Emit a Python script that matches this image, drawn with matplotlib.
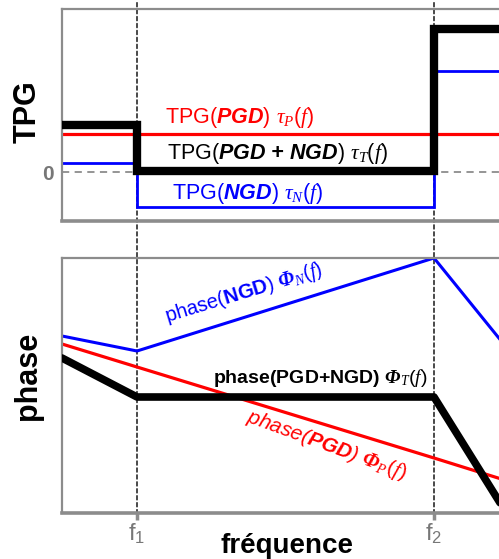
import matplotlib
matplotlib.use("Agg")
import matplotlib.pyplot as plt
from matplotlib.patches import ConnectionPatch

plt.rcParams["font.family"] = ["Liberation Sans", "DejaVu Sans"]
plt.rcParams["mathtext.fontset"] = "custom"
plt.rcParams["mathtext.rm"] = "Liberation Sans"
plt.rcParams["mathtext.it"] = "Liberation Serif:italic"
plt.rcParams["mathtext.bf"] = "Liberation Sans:bold"
plt.rcParams["mathtext.bfit"] = "Liberation Sans:bold:italic"
plt.rcParams["mathtext.sf"] = "Liberation Serif:italic:bold"

# frequency axis (arbitrary units), f1 and f2 marked
F1 = 1.0
F2 = 4.96
X_MAX = 6.3
freq_edges = [0.0, F1, F2, X_MAX]
freq_ticks = [F1, F2]
freq_tick_labels = [r"f$_1$", r"f$_2$"]

# group delay (TPG) per band, arbitrary units
tau_p = [38, 38, 38]
tau_n = [9, -35, 101]
tau_t = [47, 1, 143]

# phase curves, arbitrary units
phase_x = [0.0, F1, F2, 5.9]
phase_n = [177, 162, 255, 168]
phase_p = [169, 146, 55, 33]
phase_t = [155, 116, 116, 3]

RED = "#ff0000"
BLUE = "#0000ff"
GRAY = "#8c8c8c"

W, H = 499, 559
fig = plt.figure(figsize=(W / 100, H / 100), dpi=100)
ax_w = (X_MAX * 75) / W
ax1 = fig.add_axes([62 / W, (H - 221) / H, ax_w, 212 / H])
ax2 = fig.add_axes([62 / W, (H - 513) / H, ax_w, 255 / H])

for ax in (ax1, ax2):
    ax.set_facecolor("none")
    ax.set_xlim(0, X_MAX)
    for s in ("left", "top", "right"):
        ax.spines[s].set_color(GRAY)
        ax.spines[s].set_linewidth(1.6)
    ax.spines["bottom"].set_color(GRAY)
    ax.spines["bottom"].set_linewidth(2.6)

# --- TPG panel ---
ax1.set_ylim(-49, 163)
ax1.axhline(0, color=GRAY, lw=1.3, ls=(0, (4, 3)), zorder=1)
ax1.stairs(tau_p, freq_edges, baseline=None, color=RED, lw=2.3, zorder=2)
ax1.stairs(tau_n, freq_edges, baseline=None, color=BLUE, lw=2.0, zorder=2)
ax1.stairs(tau_t, freq_edges, baseline=None, color="black", lw=6.0, zorder=3)
ax1.set_xticks([])
ax1.set_yticks([0])
ax1.set_yticklabels(["0"], color="#777777", fontsize=15, fontweight="bold")
ax1.tick_params(axis="y", length=0, pad=6)
ax1.set_ylabel("TPG", fontsize=22, fontweight="bold")
ax1.yaxis.set_label_coords(-0.04, 0.514)

ax1.text(1.37, 54, r"TPG($\mathbfit{PGD}$) $\tau_P(f)$", color=RED,
         fontsize=15.5, ha="left", va="center")
ax1.text(1.40, 19, r"TPG($\mathbfit{PGD}$ $\mathbfit{+}$ $\mathbfit{NGD}$) $\tau_T(f)$",
         color="black", fontsize=15.5, ha="left", va="center")
ax1.text(1.47, -22, r"TPG($\mathbfit{NGD}$) $\tau_N(f)$", color=BLUE,
         fontsize=15.5, ha="left", va="center")

# --- phase panel ---
ax2.set_ylim(0, 255)
ax2.plot(phase_x, phase_n, color=BLUE, lw=2.2, zorder=2)
ax2.plot(phase_x, phase_p, color=RED, lw=2.3, zorder=2)
ax2.plot(phase_x, phase_t, color="black", lw=5.5, zorder=3,
         solid_capstyle="round")
ax2.set_yticks([])
ax2.set_xticks(freq_ticks)
ax2.set_xticklabels(freq_tick_labels, color="#777777", fontsize=17)
ax2.tick_params(axis="x", length=5, width=2.5, color=GRAY, pad=1)
ax2.set_ylabel("phase", fontsize=22, fontweight="bold")
ax2.yaxis.set_label_coords(-0.04, 0.537)
ax2.set_xlabel("fréquence", fontsize=20, fontweight="bold")
ax2.xaxis.set_label_coords(0.476, -0.078)

ax2.text(2.42, 219, r"phase($\mathbf{NGD}$) $\mathsf{\Phi}_N(f)$", color=BLUE,
         fontsize=14.5, ha="center", va="center", rotation=17)
ax2.text(3.52, 67, r"phase($\mathbfit{PGD}$) $\mathsf{\Phi}_P(f)$", color=RED,
         fontsize=15, ha="center", va="center", rotation=-20, style="italic")
ax2.text(4.88, 135, r"phase(PGD+NGD) $\mathsf{\Phi}_T(f)$", color="black",
         fontsize=14, fontweight="bold", ha="right", va="center")

# dashed markers at f1 and f2 running through both panels
for f in freq_ticks:
    con = ConnectionPatch(xyA=(f, 1.03), coordsA=ax1.get_xaxis_transform(),
                          xyB=(f, 0.0), coordsB=ax2.get_xaxis_transform(),
                          color="black", lw=1.0, ls=(0, (3, 2)), zorder=-1)
    fig.add_artist(con)

fig.savefig("out.png", dpi=100)
